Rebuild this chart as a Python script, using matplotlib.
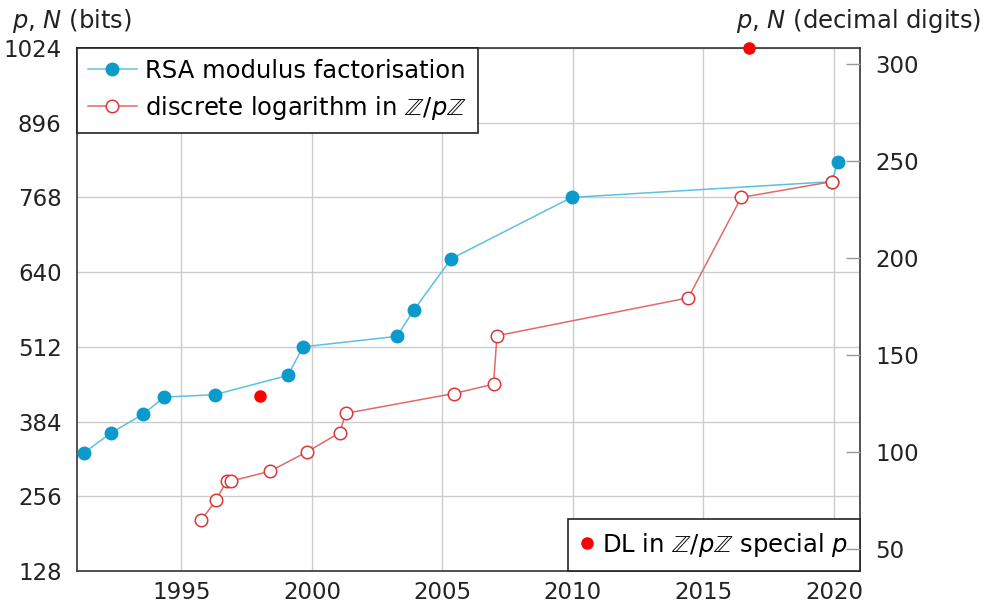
import numpy as np
import matplotlib
matplotlib.use("Agg")
import matplotlib.pyplot as plt
from matplotlib.lines import Line2D

plt.rcParams["mathtext.fontset"] = "dejavusans"
plt.rcParams["font.family"] = ["DejaVu Sans"]

# RSA modulus factorisation records (year, bits)
rsa_year = [1991.25, 1992.29, 1993.54, 1994.35, 1996.27, 1999.08, 1999.66,
            2003.26, 2003.92, 2005.34, 2009.95, 2019.92, 2020.15]
rsa_bits = [330, 364, 397, 426, 430, 463, 512, 530, 576, 663, 768, 795, 829]

# discrete logarithm in Z/pZ records
dl_year = [1995.76, 1996.32, 1996.73, 1996.90, 1998.40, 1999.81, 2001.07,
           2001.29, 2005.43, 2006.96, 2007.09, 2014.42, 2016.45, 2019.92]
dl_bits = [215, 249, 282, 282, 299, 332, 365, 398, 432, 448, 531, 596, 768, 795]

# DL with special p
sp_year = [1998.03, 2016.76]
sp_bits = [428, 1024]

bit_ticks = [128, 256, 384, 512, 640, 768, 896, 1024]
digit_ticks = [50, 100, 150, 200, 250, 300]
year_ticks = [1995, 2000, 2005, 2010, 2015, 2020]

blue_mk = "#0a9acb"
blue_ln = "#5cc0e2"
red_mk = "#d8383a"
red_ln = "#e06a6a"

FS = 17.5
TFS = 16.5

fig = plt.figure(figsize=(9.89, 6.04), dpi=100)
ax = fig.add_axes([77 / 989, 1 - 571 / 604, (860 - 77) / 989, (571 - 48) / 604])

ax.plot(rsa_year, rsa_bits, color=blue_ln, lw=1.1, marker="o", ms=9,
        mfc=blue_mk, mec=blue_mk, zorder=3)
ax.plot(dl_year, dl_bits, color=red_ln, lw=1.1, marker="o", ms=9,
        mfc="white", mec=red_mk, mew=1.1, zorder=4)
ax.plot(sp_year, sp_bits, ls="none", marker="o", ms=8, mfc="red", mec="red",
        zorder=5, clip_on=False)

ax.set_xlim(1991, 2021)
ax.set_ylim(128, 1024)
ax.set_xticks(year_ticks)
ax.set_yticks(bit_ticks)
ax.grid(True, color="#cccccc", lw=1)
ax.set_axisbelow(True)
ax.tick_params(direction="in", labelsize=TFS, length=0, pad=11, colors="#222222")
ax.tick_params(axis="x", pad=7)
for sp in ax.spines.values():
    sp.set_color("#333333")
    sp.set_linewidth(1.2)

# right axis in decimal digits
ax2 = ax.twinx()
ax2.set_ylim(128 * np.log10(2), 1024 * np.log10(2))
ax2.set_yticks(digit_ticks)
ax2.tick_params(direction="in", labelsize=TFS, length=10, pad=11, width=1,
                color="#999999", labelcolor="#222222")
for sp in ax2.spines.values():
    sp.set_visible(False)

fig.text(12 / 989, 1 - 28 / 604, r"$p$, $N$ (bits)", fontsize=FS, va="baseline",
         ha="left", color="#222222")
fig.text(981 / 989, 1 - 28 / 604, r"$p$, $N$ (decimal digits)", fontsize=FS,
         va="baseline", ha="right", color="#222222")

h1 = [Line2D([], [], color=blue_ln, lw=1.1, marker="o", ms=9, mfc=blue_mk, mec=blue_mk),
      Line2D([], [], color=red_ln, lw=1.1, marker="o", ms=9, mfc="white", mec=red_mk, mew=1.1)]
leg1 = ax.legend(h1, ["RSA modulus factorisation",
                      r"discrete logarithm in $\mathbb{Z}/p\mathbb{Z}$"],
                 loc="upper left", bbox_to_anchor=(0, 1), fontsize=FS,
                 fancybox=False, framealpha=1, edgecolor="#222222",
                 borderaxespad=0, handlelength=2.0, handletextpad=0.35,
                 borderpad=0.45, labelspacing=0.45)
leg1.get_frame().set_linewidth(1.2)
ax.add_artist(leg1)

h2 = [Line2D([], [], ls="none", marker="o", ms=8, mfc="red", mec="red")]
leg2 = ax.legend(h2, [r"DL in $\mathbb{Z}/p\mathbb{Z}$ special $p$"],
                 loc="lower right", bbox_to_anchor=(1, 0), fontsize=FS,
                 fancybox=False, framealpha=1, edgecolor="#222222",
                 borderaxespad=0, handlelength=0.6, handletextpad=0.3,
                 borderpad=0.5)
leg2.get_frame().set_linewidth(1.2)

fig.savefig("out.png", dpi=100)
